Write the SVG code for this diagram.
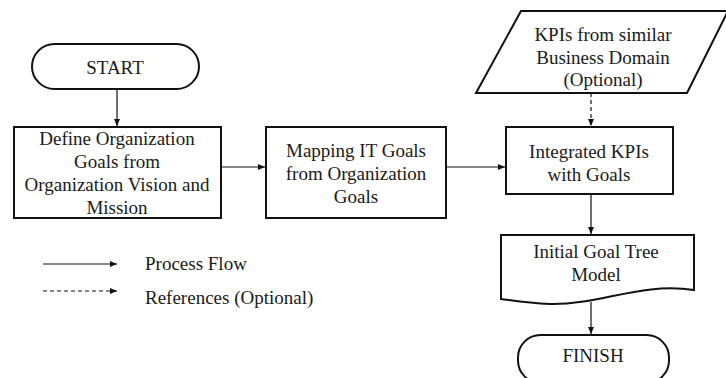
<svg xmlns="http://www.w3.org/2000/svg" width="726" height="378" viewBox="0 0 726 378">
<style>
.shape{fill:#fff;stroke:#111;stroke-width:2}
.conn{stroke:#111;stroke-width:1.2;fill:none}
.dash{stroke-dasharray:4 3}
text{font-family:"Liberation Serif","Times New Roman",serif;font-size:19px;fill:#1a1a1a;text-anchor:middle}
.left{text-anchor:start}
</style>
<defs>
<marker id="ah" markerUnits="userSpaceOnUse" markerWidth="8" markerHeight="6" refX="7" refY="3" orient="auto">
<path d="M0,0 L7,3 L0,6 z" fill="#111"/>
</marker>
</defs>
<rect width="726" height="378" fill="#fff"/>
<g id="connectors">
<line class="conn" x1="117" y1="89" x2="117" y2="126" marker-end="url(#ah)"/>
<line class="conn" x1="221" y1="167" x2="265" y2="167" marker-end="url(#ah)"/>
<line class="conn" x1="446" y1="167" x2="505" y2="167" marker-end="url(#ah)"/>
<line class="conn dash" x1="591" y1="93" x2="591" y2="126" marker-end="url(#ah)"/>
<line class="conn" x1="591" y1="194" x2="591" y2="234" marker-end="url(#ah)"/>
<line class="conn" x1="591" y1="302" x2="591" y2="334" marker-end="url(#ah)"/>
</g>
<g id="start">
<rect class="shape" x="32" y="44" width="167" height="45" rx="22.5"/>
<text x="115" y="74">START</text>
</g>
<g id="define-goals">
<rect class="shape" x="14" y="127" width="207" height="91"/>
<text x="117" y="145">Define Organization</text>
<text x="117" y="168">Goals from</text>
<text x="117" y="191">Organization Vision and</text>
<text x="117" y="214">Mission</text>
</g>
<g id="mapping-it-goals">
<rect class="shape" x="266" y="127" width="180" height="91"/>
<text x="356" y="157">Mapping IT Goals</text>
<text x="356" y="180">from Organization</text>
<text x="356" y="203">Goals</text>
</g>
<g id="kpis-similar">
<polygon class="shape" points="521,11 728,11 687,93 476,93"/>
<text x="603" y="41">KPIs from similar</text>
<text x="603" y="64">Business Domain</text>
<text x="603" y="86">(Optional)</text>
</g>
<g id="integrated-kpis">
<rect class="shape" x="506" y="127" width="167" height="67"/>
<text x="589" y="158">Integrated KPIs</text>
<text x="589" y="181">with Goals</text>
</g>
<g id="goal-tree">
<path class="shape" d="M501,235 H694 V290 C640,282 600,305 550,304 C525,303 510,300 501,299 Z"/>
<text x="596" y="258">Initial Goal Tree</text>
<text x="596" y="281">Model</text>
</g>
<g id="finish">
<rect class="shape" x="518" y="335" width="151" height="48" rx="22.5"/>
<text x="593" y="362">FINISH</text>
</g>
<g id="legend">
<line class="conn" x1="43" y1="264" x2="117" y2="264" marker-end="url(#ah)"/>
<line class="conn dash" x1="43" y1="291" x2="117" y2="291" marker-end="url(#ah)"/>
<text class="left" x="145" y="270">Process Flow</text>
<text class="left" x="145" y="304">References (Optional)</text>
</g>
</svg>
